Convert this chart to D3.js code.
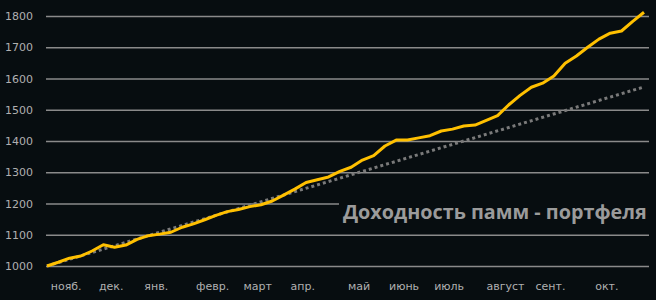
<!DOCTYPE html>
<html>

<head>
    <meta charset='utf-8'>
    <title>Доходность</title>
    <script type='text/javascript' src='https://cdn.jsdelivr.net/npm/d3@7'></script>
    <style>
        body { margin: 0; background: #070d10; }
    </style>
</head>

<body>
    <svg width='656' height='300'></svg>
    <script type='text/javascript'>
        // недельные значения портфеля (54 недели, нояб. - окт.)
        const portfolio = [
            1000, 1012, 1025, 1032, 1048, 1068, 1060, 1067, 1085, 1097,
            1102, 1108, 1124, 1135, 1148, 1162, 1174, 1181, 1190, 1196,
            1208, 1227, 1246, 1267, 1276, 1285, 1303, 1316, 1339, 1353,
            1384, 1403, 1403, 1410, 1417, 1432, 1438, 1448, 1451, 1466,
            1481, 1516, 1546, 1572, 1585, 1608, 1649, 1672, 1700, 1726,
            1745, 1752, 1783, 1812
        ]
        // пунктирная линия тренда: начало и конец
        const trendIdx = [0, 53]
        const trendVal = [1000, 1573]
        // подписи месяцев и неделя, с которой начинается месяц
        const months = ['нояб.', 'дек.', 'янв.', 'февр.', 'март', 'апр.', 'май', 'июнь', 'июль', 'август', 'сент.', 'окт.']
        const monthStart = [0, 4, 8, 13, 17, 21, 26, 30, 34, 39, 43, 48]
        const yTicks = [1000, 1100, 1200, 1300, 1400, 1500, 1600, 1700, 1800]
        const title = 'Доходность памм - портфеля'

        const svg = d3.select('svg')
        const bg = '#070d10'
        svg.append('rect').attr('width', 656).attr('height', 300).attr('fill', bg)

        const x = d3.scaleLinear().domain([0, portfolio.length - 1]).range([47, 644])
        const y = d3.scaleLinear().domain([1000, 1800]).range([266, 16])

        // сетка
        const yAxis = d3.axisLeft(y).tickValues(yTicks).tickFormat(d3.format('d'))
            .tickSize(-603).tickPadding(13)
        const gy = svg.append('g').attr('transform', 'translate(46,0)').call(yAxis)
        gy.select('.domain').remove()
        gy.selectAll('.tick line').attr('stroke', '#8a8a8a').attr('stroke-width', 1.5)
        gy.selectAll('.tick text')
            .attr('fill', '#b0b0b0')
            .attr('font-family', 'DejaVu Sans')
            .attr('font-size', 11)

        // подписи месяцев
        svg.append('g').selectAll('text').data(months)
            .enter().append('text')
            .attr('x', (d, i) => x(monthStart[i] + 1.7))
            .attr('y', 290)
            .attr('text-anchor', 'middle')
            .attr('fill', '#b0b0b0')
            .attr('font-family', 'DejaVu Sans')
            .attr('font-size', 11)
            .text(d => d)

        // заголовок с фоном, закрывающим линию сетки
        svg.append('rect')
            .attr('x', 339).attr('y', 194).attr('width', 316).attr('height', 34)
            .attr('fill', bg)
        svg.append('text')
            .attr('x', 343)
            .attr('y', 219)
            .attr('fill', '#9b9b9b')
            .attr('font-family', 'Open Sans')
            .attr('font-weight', 'bold')
            .attr('font-size', 19.8)
            .text(title)

        // тренд
        const trendLine = d3.line().x((d, i) => x(trendIdx[i])).y(d => y(d))
        svg.append('path')
            .attr('d', trendLine(trendVal))
            .attr('fill', 'none')
            .attr('stroke', '#7a7a7a')
            .attr('stroke-width', 3)
            .attr('stroke-dasharray', '3,3')

        // доходность
        const line = d3.line().x((d, i) => x(i)).y(d => y(d))
        svg.append('path')
            .attr('d', line(portfolio))
            .attr('fill', 'none')
            .attr('stroke', '#ffc000')
            .attr('stroke-width', 3)
            .attr('stroke-linejoin', 'round')
    </script>
</body>

</html>
